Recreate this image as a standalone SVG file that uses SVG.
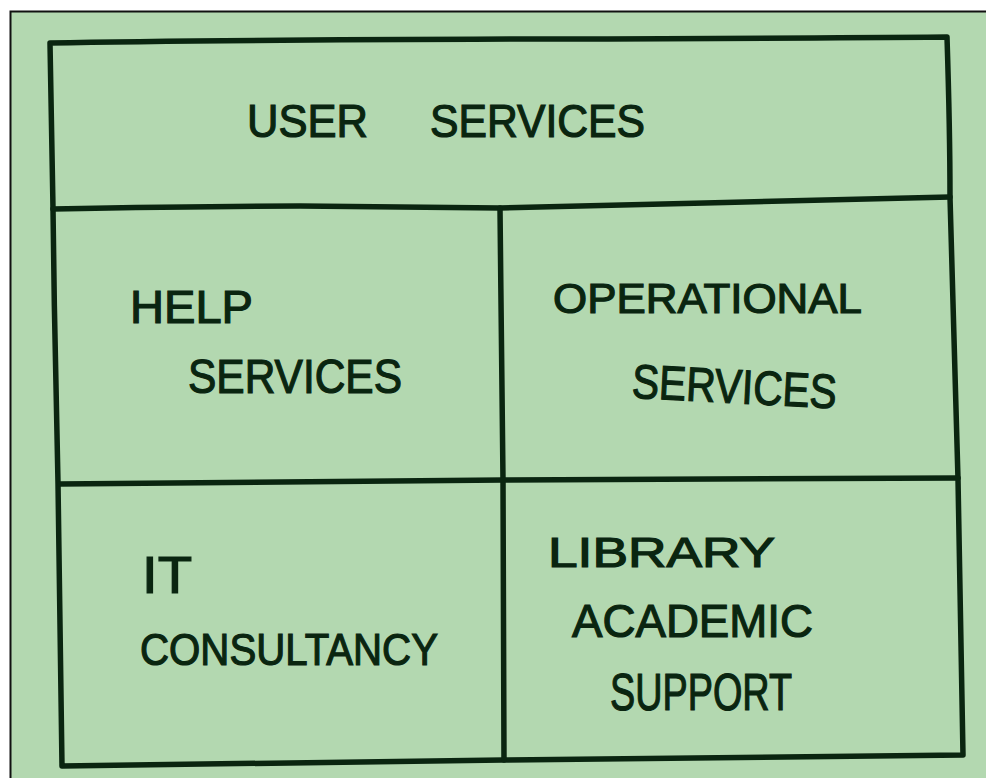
<svg xmlns="http://www.w3.org/2000/svg" width="986" height="778" viewBox="0 0 986 778">
<style>
.ln{fill:none;stroke:#0a2510;stroke-width:5.5;stroke-linecap:round;stroke-linejoin:round}
.t{font-family:"Liberation Sans","DejaVu Sans",sans-serif;fill:#0a2510;stroke:#0a2510;stroke-width:1.2;font-weight:normal}
</style>
<rect x="0" y="0" width="986" height="778" fill="#ffffff"/>
<rect x="10" y="11" width="976" height="767" fill="#b3d8b0"/>
<path d="M10.5,778 V11.5 H986" fill="none" stroke="#111" stroke-width="2"/>
<g id="connectors">
<path class="ln" d="M50,43 C300,38 600,40 947,37 C949,100 950,150 950,197 C953,300 956,400 958,479 C960,580 962,680 963,755 C800,757 650,759 503,760 C350,762 200,764 62,766 C60,600 58,500 58,483 C56,400 54,300 53,209 C52,150 51,90 50,43 Z"/>
<path class="ln" d="M53,209 C150,207 250,206 300,206 C400,207 450,208 500,208 C650,205 800,200 950,197"/>
<path class="ln" d="M500,208 C501,300 502,400 503,480 C503,600 504,700 504,760"/>
<path class="ln" d="M60,484 C200,483 350,481 503,480 C650,480 800,479 958,478"/>
</g>
<g id="user-services">
<text class="t" font-size="46" y="137"><tspan x="247" textLength="121" lengthAdjust="spacingAndGlyphs">USER</tspan><tspan x="430" textLength="215" lengthAdjust="spacingAndGlyphs">SERVICES</tspan></text>
</g>
<g id="help-services">
<text class="t" font-size="46" x="130" y="323" textLength="123" lengthAdjust="spacingAndGlyphs">HELP</text>
<text class="t" font-size="48" x="188" y="393" textLength="214" lengthAdjust="spacingAndGlyphs">SERVICES</text>
</g>
<g id="operational-services">
<text class="t" font-size="42" x="553" y="313" textLength="309" lengthAdjust="spacingAndGlyphs">OPERATIONAL</text>
<text class="t" font-size="48" x="632" y="403" textLength="205" lengthAdjust="spacingAndGlyphs" transform="rotate(3 734 385)">SERVICES</text>
</g>
<g id="it-consultancy">
<text class="t" font-size="52" x="142" y="593" textLength="50" lengthAdjust="spacingAndGlyphs">IT</text>
<text class="t" font-size="45" x="140" y="665" textLength="298" lengthAdjust="spacingAndGlyphs">CONSULTANCY</text>
</g>
<g id="library-academic-support">
<text class="t" font-size="42" x="548" y="567" textLength="227" lengthAdjust="spacingAndGlyphs">LIBRARY</text>
<text class="t" font-size="47" x="572" y="637" textLength="241" lengthAdjust="spacingAndGlyphs">ACADEMIC</text>
<text class="t" font-size="52" x="610" y="710" textLength="182" lengthAdjust="spacingAndGlyphs">SUPPORT</text>
</g>
</svg>
